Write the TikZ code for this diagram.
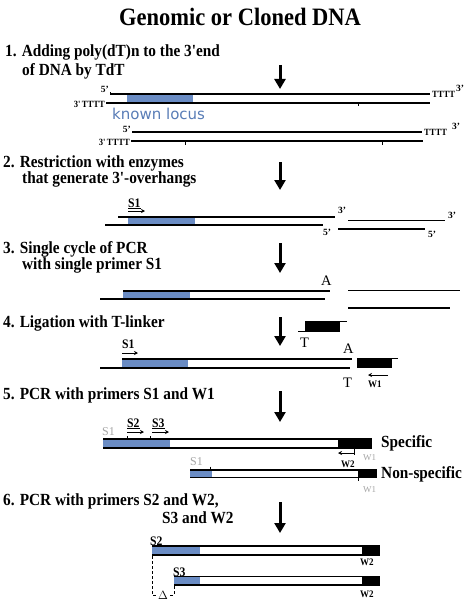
\documentclass[tikz,border=0pt]{standalone}
\usepackage{fontspec}
\setmainfont{Liberation Serif}
\newfontfamily\cond{Liberation Serif}[FakeStretch=0.9]
\newfontfamily\dvs{DejaVu Sans}
\usetikzlibrary{arrows.meta}
\definecolor{dnablue}{RGB}{106,140,196}
\definecolor{locusblue}{RGB}{88,124,182}
\definecolor{lgray}{RGB}{165,165,165}
\tikzset{
  steptext/.style={anchor=base west,inner sep=0pt,font=\cond\bfseries\fontsize{17}{18}\selectfont},
  bigarrow/.style={line width=3pt,-{Triangle[length=10pt,width=11pt]}},
  strand/.style={line width=1.8pt},
  thinstrand/.style={line width=1.3pt},
  thickstrand/.style={line width=2.3pt},
  endlab/.style={anchor=base west,inner sep=0pt,font=\bfseries\fontsize{9.5}{10}\selectfont},
  endlabr/.style={anchor=base east,inner sep=0pt,font=\bfseries\fontsize{9.5}{10}\selectfont},
  tlab/.style={anchor=base west,inner sep=0pt,font=\cond\bfseries\fontsize{9.5}{10}\selectfont},
  tlabr/.style={anchor=base east,inner sep=0pt,font=\cond\bfseries\fontsize{9.5}{10}\selectfont},
  primer/.style={anchor=base west,inner sep=0pt,font=\cond\bfseries\fontsize{13}{13}\selectfont},
  graylab/.style={anchor=base west,inner sep=0pt,text=lgray,font=\fontsize{12}{12}\selectfont},
  smalllab/.style={anchor=base west,inner sep=0pt,font=\cond\bfseries\fontsize{10}{10}\selectfont},
  smallgray/.style={anchor=base west,inner sep=0pt,text=lgray,font=\fontsize{9}{9}\selectfont},
  plainlab/.style={anchor=base west,inner sep=0pt,font=\fontsize{14.5}{14}\selectfont},
  parrow/.style={line width=0.9pt,-{Stealth[length=4pt,width=4pt]}},
  tick/.style={line width=0.8pt},
  sidelabel/.style={anchor=base west,inner sep=0pt,font=\cond\bfseries\fontsize{17}{17}\selectfont},
}
\begin{document}
\begin{tikzpicture}[x=1pt,y=-1pt]
\useasboundingbox (0,0) rectangle (474,607);

% title
\node[anchor=base,inner sep=0pt,font=\cond\bfseries\fontsize{25}{25}\selectfont] (title) at (240,26) {Genomic or Cloned DNA};

% step texts
\node[steptext] (s1a) at (5,57) {1. Adding poly(dT)n to the 3'end};
\node[steptext] (s1b) at (22,76) {of DNA by TdT};
\node[steptext] (s2a) at (3,167) {2. Restriction with enzymes};
\node[steptext] (s2b) at (22,183) {that generate 3'-overhangs};
\node[steptext] (s3a) at (3,253) {3. Single cycle of PCR};
\node[steptext] (s3b) at (22,269) {with single primer S1};
\node[steptext] (s4a) at (3,327) {4. Ligation with T-linker};
\node[steptext] (s5a) at (3,399) {5. PCR with primers S1 and W1};
\node[steptext] (s6a) at (3,505) {6. PCR with primers S2 and W2,};
\node[steptext] (s6b) at (162,523) {S3 and W2};

% big arrows
\coordinate (a1s) at (280,65);  \coordinate (a1e) at (280,89);
\coordinate (a2s) at (280,162); \coordinate (a2e) at (280,190);
\coordinate (a3s) at (280,243); \coordinate (a3e) at (280,273);
\coordinate (a4s) at (280,317); \coordinate (a4e) at (280,346);
\coordinate (a5s) at (280,391); \coordinate (a5e) at (280,422);
\coordinate (a6s) at (280,502); \coordinate (a6e) at (280,533);
\foreach \i in {1,...,6} \draw[bigarrow] (a\i s) -- (a\i e);

% ---------- step 1 ----------
\fill[dnablue] (127,95.5) rectangle (193,102.3);
\draw[strand] (110,94.3) -- (430,94.3);
\draw[strand] (106,103.3) -- (430,103.3);
\draw[tick] (110,94.3) -- (110,92);
\draw[tick] (358,103.3) -- (358,106.5);
\node[endlabr] (f5a) at (109,93) {5'};
\node[tlab] (ta) at (432,98) {TTTT};
\node[endlab] (f3a) at (456,92) {3'};
\node[tlabr] (tb) at (105,107) {3'\,TTTT};
\node[anchor=base west,inner sep=0pt,text=locusblue,font=\dvs\fontsize{15}{15}\selectfont] (locus) at (112,120) {known locus};

\draw[strand] (132,131.7) -- (422,131.7);
\draw[strand] (131,141) -- (423,141);
\draw[tick] (185,141) -- (185,144.5);
\draw[tick] (382,141) -- (382,144.5);
\node[endlabr] (f5b) at (131,132) {5'};
\node[tlab] (tc) at (424,135.5) {TTTT};
\node[endlab] (f3b) at (452,129.5) {3'};
\node[tlabr] (td) at (130,145) {3'\,TTTT};

% ---------- step 2 ----------
\node[primer] (p2) at (128,207) {\underline{S1}};
\draw[parrow] (128,211) -- (145,211);
\fill[dnablue] (128,218) rectangle (195,224);
\draw[thickstrand] (118,216.7) -- (335,216.7);
\draw[thinstrand] (105,225) -- (323,225);
\node[endlab] (e1) at (338,213) {3'};
\node[endlab] (e2) at (323,235) {5'};
\draw[thinstrand] (348,220.7) -- (445,220.7);
\draw[thickstrand] (338,229) -- (425,229);
\node[endlab] (e3) at (448,218) {3'};
\node[endlab] (e4) at (428,237) {5'};

% ---------- step 3 ----------
\node[plainlab] (A3) at (321,285) {A};
\fill[dnablue] (123,291.7) rectangle (190,298);
\draw[strand] (123,290.7) -- (330,290.7);
\draw[strand] (100,299) -- (325,299);
\draw[thinstrand] (348,290.7) -- (460,290.7);
\draw[thickstrand] (348,307.7) -- (450,307.7);

% ---------- step 4 ----------
\fill[black] (305,321) rectangle (340,332);
\draw[line width=1pt] (305,321.5) -- (347,321.5);
\draw[line width=1pt] (298,331.5) -- (305,331.5);
\node[plainlab] (T4a) at (300,347) {T};

\node[primer] (p4) at (122,348) {S1};
\draw[parrow] (122,353) -- (138,353);
\node[plainlab] (A4) at (343,353.5) {A};
\fill[dnablue] (122,360) rectangle (188,366.5);
\draw[strand] (122,359) -- (352,359);
\draw[strand] (100,367.7) -- (350,367.7);
\fill[black] (357,358) rectangle (392,368);
\draw[line width=1pt] (357,358.5) -- (398,358.5);
\node[plainlab] (T4b) at (343,387) {T};
\node[smalllab] (w1) at (368,387) {W1};
\draw[parrow] (388,375) -- (368,375);

% ---------- step 5 ----------
\node[graylab] (g1) at (102,435) {S1};
\node[primer] (p5a) at (127,427) {\underline{S2}};
\node[primer] (p5b) at (152,427) {\underline{S3}};
\draw[parrow] (127,432) -- (144,432);
\draw[parrow] (152,432) -- (169,432);
\draw[tick] (127,436) -- (127,439);
\draw[tick] (150,436) -- (150,439);
\fill[dnablue] (103,439.3) rectangle (170,448.3);
\fill[black] (338,439.3) rectangle (372,448.3);
\draw[strand] (103,439.3) -- (372,439.3);
\draw[strand] (103,448.3) -- (372,448.3);
\node[sidelabel] (spec) at (381,447) {Specific};
\draw[tick] (354,448.3) -- (354,455);
\draw[parrow] (354,453) -- (338,453);
\node[smalllab] (w2a) at (341,467) {W2};
\node[smallgray] (g2) at (363,460) {W1};

\node[graylab] (g3) at (190,465) {S1};
\draw[tick] (210,466.5) -- (210,470);
\fill[dnablue] (190,470) rectangle (212,477.5);
\fill[black] (358,470) rectangle (377,477.5);
\draw[strand] (190,470) -- (377,470);
\draw[strand] (190,477.5) -- (377,477.5);
\draw[tick] (358,477.5) -- (358,481);
\node[sidelabel] (nspec) at (381,478.5) {Non-specific};
\node[smallgray] (g4) at (363,492) {W1};

% ---------- step 6 ----------
\node[primer] (p6a) at (150,545) {S2};
\fill[dnablue] (152,546) rectangle (200,555);
\fill[black] (362,546) rectangle (380,555);
\draw[strand] (152,546) -- (380,546);
\draw[strand] (152,555) -- (380,555);
\node[smalllab] (w2b) at (360,565.5) {W2};

\node[primer] (p6b) at (173,576) {S3};
\fill[dnablue] (174,576.5) rectangle (200,585);
\fill[black] (362,576.5) rectangle (380,585);
\draw[strand] (174,576.5) -- (380,576.5);
\draw[strand] (174,585) -- (380,585);
\node[smalllab] (w2c) at (360,597) {W2};

\node[inner sep=0pt,font=\fontsize{13}{13}\selectfont] (delta) at (163,595) {$\Delta$};
\draw[line width=0.8pt,dash pattern=on 3pt off 2pt] (152,556) -- (152,595) -- (delta.west);
\draw[line width=0.8pt,dash pattern=on 3pt off 2pt] (174,586) -- (174,595) -- (delta.east);
\end{tikzpicture}
\end{document}
